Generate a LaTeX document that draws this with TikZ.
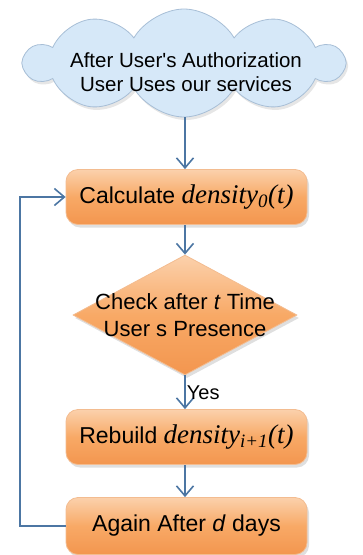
\documentclass[tikz,border=0pt]{standalone}
\usepackage{fontspec}
\setmainfont{Liberation Sans}
\newfontfamily\densfont{Liberation Serif}
\usetikzlibrary{shapes.geometric,shapes.symbols,shadows,arrows.meta}

\definecolor{cloudfill}{HTML}{D6E8F8}
\definecolor{cloudedge}{HTML}{A7BED6}
\definecolor{boxtop}{HTML}{FBD1AC}
\definecolor{boxmid}{HTML}{F8A966}
\definecolor{boxbot}{HTML}{F3964F}
\definecolor{boxedge}{HTML}{F3BC90}
\definecolor{flowblue}{HTML}{4C76A3}

\newcommand{\dens}[1]{{\densfont\itshape\fontsize{27}{30}\selectfont density\textsubscript{#1}(t)}}

\tikzset{
    stepbox/.style={rectangle, rounded corners=12pt, draw=boxedge, line width=0.8pt,
        top color=boxtop, bottom color=boxbot, middle color=boxmid,
        minimum width=241pt, minimum height=55pt, inner sep=2pt,
        font=\fontsize{23}{26}\selectfont,
        drop shadow={opacity=0.25, shadow xshift=2pt, shadow yshift=-3pt}},
    flow/.style={draw=flowblue, line width=1.8pt, -{Straight Barb[length=10pt,width=17pt,line width=1.6pt]}}
}

\begin{document}
\begin{tikzpicture}[x=1pt, y=-1pt]
\useasboundingbox (0,0) rectangle (362,555);

\node [cloud, cloud puffs=10, cloud puff arc=120, cloud ignores aspect,
    minimum width=318pt, minimum height=108pt, inner sep=0pt,
    draw=cloudedge, line width=0.8pt, fill=cloudfill,
    drop shadow={opacity=0.2, shadow xshift=2pt, shadow yshift=-3pt}]
    (cloud) at (184,63) {};
\node [align=center, font=\fontsize{20.5}{24}\selectfont] (cloudtext) at (186,72)
    {After User\textquotesingle s Authorization\\User Uses our services};

\node [stepbox] (calc) at (186.5,197) {Calculate \dens{0}};

\node [diamond, minimum width=224pt, minimum height=120pt, inner sep=0pt,
    draw=boxedge, line width=0.8pt, top color=boxtop, bottom color=boxbot, middle color=boxmid,
    drop shadow={opacity=0.25, shadow xshift=2pt, shadow yshift=-3pt}]
    (check) at (185,315) {};
\node [align=center, font=\fontsize{22}{27}\selectfont] (checktext) at (check.center)
    {Check after \textit{t} Time\\User s Presence};

\node [stepbox] (rebuild) at (186.5,437) {Rebuild \dens{i+1}};

\node [stepbox, minimum height=57pt] (again) at (186.5,526) {Again After \textit{d} days};

% connectors
\draw [flow] (cloud.south -| check.north) -- (calc.north -| check.north);
\draw [flow] (calc.south -| check.north) -- (check.north);
\draw [flow] (check.south) -- node [right, inner sep=1pt, font=\fontsize{20}{22}\selectfont] (yes) {Yes}
    (rebuild.north -| check.south);
\draw [flow] (rebuild.south -| check.south) -- (again.north -| check.south);
\draw [flow] (again.west) -- ++(-46,0) |- (calc.west);
\end{tikzpicture}
\end{document}
